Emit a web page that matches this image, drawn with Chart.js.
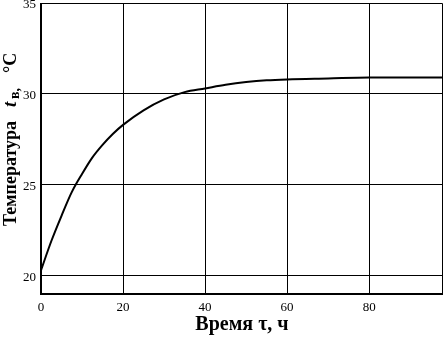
<!DOCTYPE html>
<html>
<head>
<meta charset="utf-8">
<script src="https://cdn.jsdelivr.net/npm/chart.js@4/dist/chart.umd.min.js"></script>
<style>
  html, body { margin: 0; padding: 0; background: #fff; }
  #wrap { width: 447px; height: 338px; }
</style>
</head>
<body>
<div id="wrap"><canvas id="chart"></canvas></div>
<script>
// время, ч
var timeH = [0, 2.5, 5, 7.5, 10, 12.5, 15, 17.5, 20, 25, 30, 35, 40, 45, 50, 55, 60, 70, 80, 90, 98];
// температура воздуха, °C
var tempC = [20.3, 21.9, 23.3, 24.6, 25.6, 26.5, 27.2, 27.8, 28.3, 29.1, 29.7, 30.1, 30.3, 30.5, 30.65, 30.75, 30.8, 30.85, 30.9, 30.9, 30.9];
var yTicks = [20, 25, 30, 35];
var xTicks = [0, 20, 40, 60, 80];

var serif = '"Liberation Serif", "DejaVu Serif", serif';

// рамка и подпись оси Y (с индексом)
var framePlugin = {
  id: 'frame',
  afterDraw: function (chart) {
    var c = chart.ctx, a = chart.chartArea;
    c.save();
    c.strokeStyle = '#000';
    c.lineWidth = 1;
    c.beginPath();
    c.moveTo(a.left, a.top + 0.5);
    c.lineTo(a.right - 0.5, a.top + 0.5);
    c.lineTo(a.right - 0.5, a.bottom);
    c.stroke();
    c.lineWidth = 2;
    c.beginPath();
    c.moveTo(a.left, a.top);
    c.lineTo(a.left, a.bottom);
    c.lineTo(a.right, a.bottom);
    c.stroke();

    // Температура  tв, °C
    c.translate(11, 226);
    c.rotate(-Math.PI / 2);
    c.fillStyle = '#000';
    c.textBaseline = 'middle';
    c.font = 'bold 18px ' + serif;
    c.fillText('Температура', 0, 0);
    c.font = 'italic bold 19px ' + serif;
    c.fillText('t', 119, 0);
    c.font = 'bold 14px ' + serif;
    c.fillText('в,', 127, 4);
    c.font = 'bold 18px ' + serif;
    c.fillText('°C', 153, 0);
    c.restore();
  }
};

var ctx = document.getElementById('chart').getContext('2d');
var myChart = new Chart(ctx, {
  type: 'line',
  data: {
    datasets: [{
      data: timeH.map(function (t, i) { return { x: t, y: tempC[i] }; }),
      borderColor: '#000',
      borderWidth: 2,
      pointRadius: 0,
      cubicInterpolationMode: 'monotone',
      fill: false
    }]
  },
  options: {
    responsive: true,
    maintainAspectRatio: false,
    animation: false,
    layout: { padding: { top: 3, right: 4, left: 0, bottom: 0 } },
    plugins: { legend: { display: false }, tooltip: { enabled: false } },
    scales: {
      x: {
        type: 'linear',
        min: 0,
        max: 98,
        afterBuildTicks: function (s) { s.ticks = xTicks.map(function (v) { return { value: v }; }); },
        afterFit: function (s) { s.height = 44; s.paddingLeft = 0; s.paddingRight = 0; },
        grid: {
          color: function (c) { return c.tick && c.tick.value === 0 ? 'rgba(0,0,0,0)' : '#000'; },
          lineWidth: 1,
          drawTicks: false
        },
        border: { display: false },
        ticks: { color: '#000', padding: 6, maxRotation: 0, font: { family: serif, size: 13 } },
        title: {
          display: true,
          text: 'Время τ, ч',
          color: '#000',
          padding: { top: 0, bottom: 1 },
          font: { family: serif, size: 20, weight: 'bold' }
        }
      },
      y: {
        type: 'linear',
        min: 19,
        max: 35,
        afterBuildTicks: function (s) { s.ticks = yTicks.map(function (v) { return { value: v }; }); },
        afterFit: function (s) { s.width = 41; s.paddingTop = 0; s.paddingBottom = 0; },
        grid: {
          color: function (c) { return c.tick && c.tick.value === 35 ? 'rgba(0,0,0,0)' : '#000'; },
          lineWidth: 1,
          drawTicks: false
        },
        border: { display: false },
        ticks: { color: '#000', padding: 5, labelOffset: 2, font: { family: serif, size: 13 } }
      }
    }
  },
  plugins: [framePlugin]
});
</script>
</body>
</html>
